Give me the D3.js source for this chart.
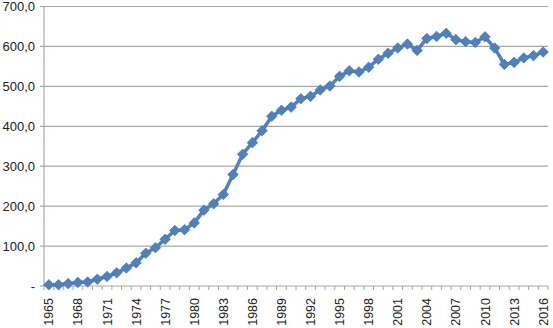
<!DOCTYPE html>
<html>
<head>
<meta charset="utf-8">
<script src="https://cdn.jsdelivr.net/npm/d3@7"></script>
<style>
  body { margin: 0; background: #fff; }
  svg { display: block; font-family: "Liberation Sans", Arial, sans-serif; }
</style>
</head>
<body>
<svg id="chart" width="553" height="328"></svg>
<script>
// years and values
var years = d3.range(1965, 2017);
var values = [
  3, 3, 6, 9, 10, 17, 24, 33, 45, 58,
  82, 96, 117, 139, 141, 158, 190, 206, 229, 279,
  330, 359, 389, 425, 440, 448, 469, 475, 491, 501,
  525, 539, 536, 548, 568, 583, 596, 606, 590, 620,
  625, 633, 617, 612, 610, 624, 596, 555, 560, 571,
  577, 586
];
var yTicks = [0, 100, 200, 300, 400, 500, 600, 700];
var labelYears = years.filter(function(y){ return (y - 1965) % 3 === 0; });

var svg = d3.select("#chart");
var plotLeft = 44, plotRight = 548, plotTop = 6.5, plotBottom = 286;

var x = d3.scaleBand().domain(years).range([plotLeft, plotRight]).padding(0);
var y = d3.scaleLinear().domain([0, 700]).range([plotBottom, plotTop]);

var data = years.map(function(yr, i){ return { year: yr, value: values[i] }; });

//gridlines
svg.append("g").selectAll("line").data(yTicks.slice(1)).enter().append("line")
  .attr("x1", plotLeft).attr("x2", plotRight)
  .attr("y1", function(d){ return y(d); }).attr("y2", function(d){ return y(d); })
  .attr("stroke", "#a8a69e").attr("stroke-width", 1.2);

// y axis
var yAxis = svg.append("g");
yAxis.append("line").attr("x1", plotLeft).attr("x2", plotLeft).attr("y1", plotTop).attr("y2", plotBottom)
  .attr("stroke", "#a8a69e").attr("stroke-width", 1.2);
yAxis.selectAll("line.tk").data(yTicks).enter().append("line").attr("class", "tk")
  .attr("x1", plotLeft - 4).attr("x2", plotLeft)
  .attr("y1", function(d){ return y(d); }).attr("y2", function(d){ return y(d); })
  .attr("stroke", "#a8a69e").attr("stroke-width", 1.2);
yAxis.selectAll("text").data(yTicks).enter().append("text")
  .attr("x", 35).attr("y", function(d){ return y(d) + 4.5; })
  .attr("text-anchor", "end").attr("font-size", 13).attr("fill", "#222")
  .text(function(d){ return d === 0 ? "-" : d3.format(".1f")(d).replace(".", ","); });

// x axis
var xAxis = svg.append("g");
xAxis.append("line").attr("x1", plotLeft).attr("x2", plotRight).attr("y1", plotBottom).attr("y2", plotBottom)
  .attr("stroke", "#a8a69e").attr("stroke-width", 1.2);
var bounds = years.map(function(d){ return x(d); }).concat([plotRight]);
xAxis.selectAll("line.tk").data(bounds).enter().append("line").attr("class", "tk")
  .attr("x1", function(d){ return d; }).attr("x2", function(d){ return d; })
  .attr("y1", plotBottom).attr("y2", plotBottom + 4)
  .attr("stroke", "#a8a69e");
xAxis.selectAll("text").data(labelYears).enter().append("text")
  .attr("transform", function(d){
    return "translate(" + (x(d) + x.bandwidth() / 2 + 4.5) + "," + 298 + ") rotate(-90)";
  })
  .attr("text-anchor", "end").attr("font-size", 12.5).attr("fill", "#222")
  .text(function(d){ return d; });

// line + markers
var cx = function(d){ return x(d.year) + x.bandwidth() / 2; };
var line = d3.line().x(cx).y(function(d){ return y(d.value); });
svg.append("path").datum(data).attr("d", line)
  .attr("fill", "none").attr("stroke", "#4f81bd").attr("stroke-width", 3.5)
  .attr("stroke-linejoin", "round");

var marker = d3.symbol().type(d3.symbolSquare).size(56);
svg.append("g").selectAll("path").data(data).enter().append("path")
  .attr("d", marker)
  .attr("transform", function(d){ return "translate(" + cx(d) + "," + y(d.value) + ") rotate(45)"; })
  .attr("fill", "#4f81bd").attr("stroke", "#4573ac").attr("stroke-width", 0.6);
</script>
</body>
</html>
